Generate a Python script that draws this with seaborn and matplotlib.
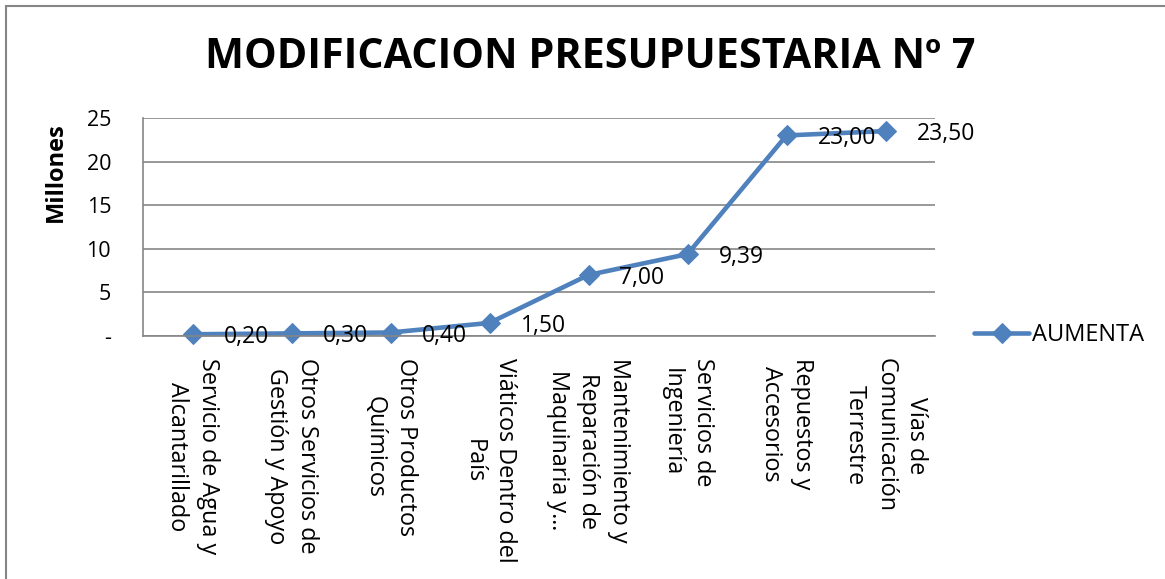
import pandas as pd
import matplotlib.pyplot as plt
import seaborn as sns
from matplotlib.patches import Rectangle

# datos del grafico
categorias = ["Servicio de Agua y\nAlcantarillado",
              "Otros Servicios de\nGestión y Apoyo",
              "Otros Productos\nQuímicos",
              "Viáticos Dentro del\nPaís",
              "Mantenimiento y\nReparación de\nMaquinaria y…",
              "Servicios de\nIngeniería",
              "Repuestos y\nAccesorios",
              "Vías de\nComunicación\nTerrestre"]
aumenta = [0.20, 0.30, 0.40, 1.50, 7.00, 9.39, 23.00, 23.50]
y_ticks = [0, 5, 10, 15, 20, 25]
y_tick_labels = ["-", "5", "10", "15", "20", "25"]

sns.set_style("white")
plt.rcParams["font.family"] = ["Open Sans", "DejaVu Sans"]
plt.rcParams["text.color"] = "black"
plt.rcParams["axes.labelcolor"] = "black"
plt.rcParams["xtick.color"] = "black"
plt.rcParams["ytick.color"] = "black"

gris = "#868686"
azul = "#4F81BD"

df = pd.DataFrame({"categoria": categorias, "AUMENTA": aumenta})

fig = plt.figure(figsize=(11.65, 5.79), dpi=100)
ax = fig.add_axes([143/1165, 1-336/579, 792/1165, 218/579])

sns.lineplot(data=df, x="categoria", y="AUMENTA", sort=False, ax=ax,
             color=azul, linewidth=3.3, marker="D", markersize=10.5,
             markeredgecolor=azul, label="AUMENTA", clip_on=False)

# etiquetas de datos
for i, v in enumerate(aumenta):
    ax.annotate(f"{v:.2f}".replace(".", ","), xy=(i, v), xytext=(31, -3),
                textcoords="offset pixels", ha="left", va="center",
                fontsize=16.5, color="black", zorder=5)

ax.set_xlim(-0.5, len(categorias) - 0.5)
ax.set_ylim(0, 25)
ax.set_yticks(y_ticks)
ax.set_yticklabels(y_tick_labels, fontsize=15.5)
ax.yaxis.grid(True, color=gris, linewidth=1.2)
ax.set_axisbelow(True)

ax.set_xticks(range(len(categorias)))
ax.set_xticklabels(categorias, rotation=-90, ha="center", va="top",
                   multialignment="center", fontsize=16.8, linespacing=1.38)
ax.tick_params(axis="x", length=0, pad=16)
ax.tick_params(axis="y", length=0, pad=23)
ax.set_xlabel("")
ax.set_ylabel("Millones", fontsize=17, fontweight="bold", va="center")
ax.yaxis.set_label_coords(-0.11, 0.75)

for s in ["top", "right"]:
    ax.spines[s].set_visible(False)
for s in ["left", "bottom"]:
    ax.spines[s].set_color(gris)
    ax.spines[s].set_linewidth(1.2)

ax.get_legend().remove()
h, l = ax.get_legend_handles_labels()
fig.legend(h, l, loc="center left", bbox_to_anchor=(974/1165, 1-335/579),
           frameon=False, fontsize=17, handlelength=2.35, handletextpad=0.12,
           borderpad=0, borderaxespad=0)

fig.text(590/1165, 1-57/579, "MODIFICACION PRESUPUESTARIA Nº 7",
         ha="center", va="center", fontsize=29.7, fontweight="bold")

# borde del grafico
fig.patches.append(Rectangle((6/1165, -0.1), 1.2, 1-6/579+0.1,
                             transform=fig.transFigure, fill=False,
                             edgecolor=gris, linewidth=1.5))

fig.savefig("out.png", dpi=100)
